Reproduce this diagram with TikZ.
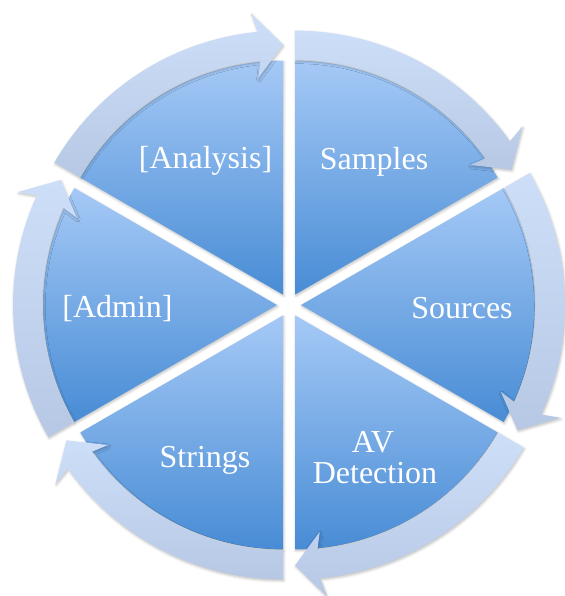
\documentclass[tikz,border=0pt]{standalone}
\usepackage{fontspec}
\setmainfont{Liberation Serif}
\usetikzlibrary{shadows.blur}
\definecolor{wtop}{RGB}{165,201,246}
\definecolor{wbot}{RGB}{72,140,213}
\definecolor{atop}{RGB}{205,223,248}
\definecolor{abot}{RGB}{182,200,228}
\begin{document}
\begin{tikzpicture}[x=1pt,y=1pt,
  wedge/.style={top color=wtop, bottom color=wbot, draw=none},
  band/.style={top color=atop, bottom color=abot, draw=none},
  lbl/.style={text=white, font=\fontsize{32}{36}\selectfont, anchor=base, inner sep=0pt},
  shadowed/.style={blur shadow={shadow xshift=0.8pt, shadow yshift=-1.5pt, shadow blur radius=2.5pt, shadow opacity=25}}]
\useasboundingbox (0,0) rectangle (564,-596);
\coordinate (C) at (289,-305);
% wedges
\foreach \lo/\nm in {30/samp, 90/anal, 150/admin, 210/str, 270/av, 330/src} {
  \pgfmathsetmacro\hi{\lo+60}
  \pgfmathsetmacro\md{\lo+30}
  \coordinate (\nm) at ([shift={(\md:12)}]C);
  \path[wedge, shadowed] (\nm) -- ++(\lo:234) arc[start angle=\lo, end angle=\hi, radius=234] -- cycle;
}
% arrows
\foreach \lo/\nm in {30/samp, 90/anal, 150/admin, 210/str, 270/av, 330/src} {
  \pgfmathsetmacro\hi{\lo+60}
  \pgfmathsetmacro\hb{\lo+5.5}
  \pgfmathsetmacro\hw{\lo+6.5}
  \path[band, shadowed] ([shift={(\hi:264)}]\nm) arc[start angle=\hi, end angle=\hb, radius=264]
    -- ([shift={(\hw:283)}]\nm) -- ([shift={(\lo:250)}]\nm) -- ([shift={(\hw:218)}]\nm)
    -- ([shift={(\hb:235)}]\nm) arc[start angle=\hb, end angle=\hi, radius=235] -- cycle;
}
% labels
\node[lbl] (lsamp) at (374,-169) {Samples};
\node[lbl] (lanal) at (205.5,-168) {[Analysis]};
\node[lbl] (lsrc) at (462,-318) {Sources};
\node[lbl] (ladmin) at (117.5,-317) {[Admin]};
\node[lbl] (lstr) at (205,-467) {Strings};
\node[lbl] (lav) at (373,-452) {AV};
\node[lbl] (ldet) at (375,-483) {Detection};
\end{tikzpicture}
\end{document}
